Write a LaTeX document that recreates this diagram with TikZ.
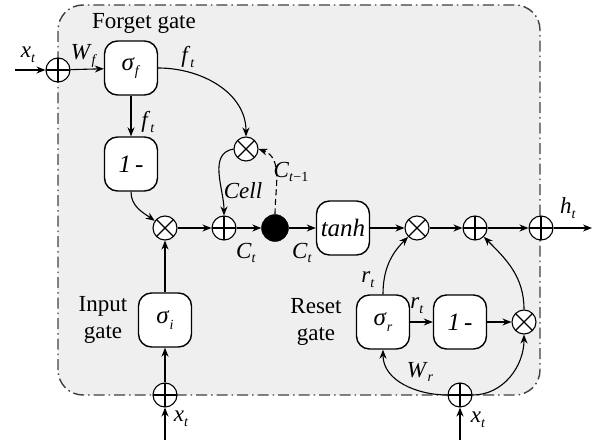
\documentclass[tikz,border=0pt]{standalone}
\usepackage{fontspec}
\setmainfont{Liberation Serif}
\usetikzlibrary{arrows.meta}
\definecolor{bgfill}{HTML}{EFEFEF}
\definecolor{bdr}{HTML}{404040}
\newcommand\lsub[2]{\textit{#1}\raisebox{-0.45ex}{\fontsize{14}{14}\selectfont\textit{#2}}}
\tikzset{
  lbl/.style={font=\fontsize{23}{25}\selectfont, inner sep=0pt},
  gatebox/.style={draw, line width=1.4pt, rounded corners=13pt, fill=white, minimum width=53pt, minimum height=54pt, inner sep=0pt, font=\fontsize{25}{27}\selectfont},
  plusc/.style={circle, draw, line width=1.1pt, fill=white, minimum size=24pt, inner sep=0pt,
    path picture={\draw[line width=1.1pt] (path picture bounding box.north) -- (path picture bounding box.south) (path picture bounding box.west) -- (path picture bounding box.east);}},
  timesc/.style={circle, draw, line width=1.1pt, fill=white, minimum size=24pt, inner sep=0pt,
    path picture={\draw[line width=1.1pt] (path picture bounding box.north west) -- (path picture bounding box.south east) (path picture bounding box.north east) -- (path picture bounding box.south west);}},
  conn/.style={line width=1.1pt, -{Stealth[length=9pt,width=7pt]}},
}
\begin{document}
\begin{tikzpicture}[x=1pt,y=1pt]
\useasboundingbox (0,0) rectangle (596,445);
\draw[bdr, fill=bgfill, line width=1.4pt, rounded corners=25pt, dash pattern=on 11pt off 4pt on 1.5pt off 4pt] (58,50) rectangle (540,440);
\node[lbl] (lforget) at (144,422) {Forget gate};
\node[lbl, align=center, font=\fontsize{23}{27}\selectfont] (linput) at (103,125) {Input\\gate};
\node[lbl, align=center, font=\fontsize{23}{27}\selectfont] (lreset) at (316,123) {Reset\\gate};
% nodes
\coordinate (xin) at (15,375);
\node[plusc] (pin) at (58,375) {};
\node[gatebox] (sf) at (131,377) {\lsub{σ}{f}};
\node[gatebox] (om1) at (131,281) {\textit{1\,-}};
\node[timesc] (mf) at (246,296) {};
\node[timesc] (m1) at (165,217) {};
\node[plusc] (a1) at (224,217) {};
\node[circle, fill=black, draw, minimum size=27pt, inner sep=0pt] (dot) at (275,217) {};
\node[gatebox] (tanh) at (343,217) {\textit{tanh}};
\node[timesc] (m2) at (417,217) {};
\node[plusc] (a2) at (475,217) {};
\node[plusc] (a3) at (541,217) {};
\coordinate (hout) at (592,217);
\node[gatebox] (si) at (165,125) {\lsub{σ}{i}};
\node[plusc] (ib) at (165,50) {};
\coordinate (xi) at (165,5);
\node[gatebox] (sr) at (383,123) {\lsub{σ}{r}};
\node[gatebox] (om2) at (460,123) {\textit{1\,-}};
\node[timesc] (m3) at (524,123) {};
\node[plusc] (rb) at (460,50) {};
\coordinate (xr) at (460,5);
% connectors
\draw[conn] (xin) -- (pin);
\draw[conn] (pin) -- (sf);
\draw[conn] (sf) -- (om1);
\draw[conn] (sf.east) to[out=0,in=90] (mf.north);
\draw[conn] (om1.south) to[out=-90,in=145] (m1);
\draw[conn] (si) -- (m1);
\draw[conn] (ib) -- (si);
\draw[conn] (xi) -- (ib);
\draw[conn] (m1) -- (a1);
\draw[conn] (mf.west) to[out=190,in=90] (a1.north);
\draw[conn] (a1) -- (dot);
\draw[conn, dash pattern=on 6pt off 3.5pt] (dot.north) to[out=90,in=-20] (mf.east);
\draw[conn] (dot) -- (tanh);
\draw[conn] (tanh) -- (m2);
\draw[conn] (m2) -- (a2);
\draw[conn] (a2) -- (a3);
\draw[conn] (a3) -- (hout);
\draw[conn] (sr.north) to[out=90,in=225] (m2.south west);
\draw[conn] (sr) -- (om2);
\draw[conn] (om2) -- (m3);
\draw[conn] (m3.north) to[out=90,in=-45] (a2.south east);
\draw[conn] (rb.west) to[out=180,in=-90] (sr.south);
\draw[conn] (rb.east) to[out=0,in=-90] (m3.south);
\draw[conn] (xr) -- (rb);
% labels
\node[lbl] (lx1) at (28,390) {\lsub{x}{t}};
\node[lbl] (lwf) at (84,389) {\lsub{W}{f}};
\node[lbl] (lf1) at (188,388) {\lsub{f}{t}};
\node[lbl] (lf2) at (148,323) {\lsub{f}{t}};
\node[lbl] (lcell) at (243,254) {\textit{Cell}};
\node[lbl] (lcprev) at (291,273) {\textit{C}\raisebox{-0.45ex}{\fontsize{14}{14}\selectfont\textit{t}−1}};
\node[lbl] (lc1) at (246,192) {\lsub{C}{t}};
\node[lbl] (lc2) at (302,192) {\lsub{C}{t}};
\node[lbl] (lh) at (568,237) {\lsub{h}{t}};
\node[lbl] (lx2) at (181,26) {\lsub{x}{t}};
\node[lbl] (lx3) at (478,25) {\lsub{x}{t}};
\node[lbl] (lr1) at (368,165) {\lsub{r}{t}};
\node[lbl] (lr2) at (417,139) {\lsub{r}{t}};
\node[lbl] (lwr) at (420,73) {\lsub{W}{r}};
\end{tikzpicture}
\end{document}
